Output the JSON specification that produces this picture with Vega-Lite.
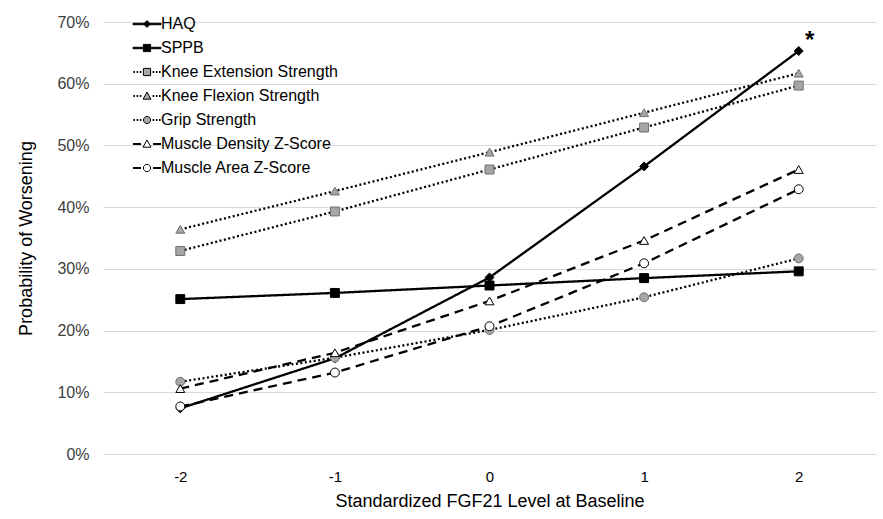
{
  "$schema": "https://vega.github.io/schema/vega-lite/v6.json",
  "width": 773,
  "height": 432,
  "autosize": {"type": "none"},
  "padding": {"left": 103, "top": 22, "right": 7, "bottom": 65},
  "background": "white",
  "config": {
    "font": "Liberation Sans",
    "view": {"stroke": null}
  },
  "data": {
    "values": [
      {"x": -2, "series": "HAQ", "p": 0.074},
      {"x": -1, "series": "HAQ", "p": 0.155},
      {"x": 0, "series": "HAQ", "p": 0.286},
      {"x": 1, "series": "HAQ", "p": 0.466},
      {"x": 2, "series": "HAQ", "p": 0.653},
      {"x": -2, "series": "SPPB", "p": 0.251},
      {"x": -1, "series": "SPPB", "p": 0.261},
      {"x": 0, "series": "SPPB", "p": 0.273},
      {"x": 1, "series": "SPPB", "p": 0.285},
      {"x": 2, "series": "SPPB", "p": 0.296},
      {"x": -2, "series": "Knee Extension Strength", "p": 0.329},
      {"x": -1, "series": "Knee Extension Strength", "p": 0.393},
      {"x": 0, "series": "Knee Extension Strength", "p": 0.461},
      {"x": 1, "series": "Knee Extension Strength", "p": 0.529},
      {"x": 2, "series": "Knee Extension Strength", "p": 0.597},
      {"x": -2, "series": "Knee Flexion Strength", "p": 0.364},
      {"x": -1, "series": "Knee Flexion Strength", "p": 0.426},
      {"x": 0, "series": "Knee Flexion Strength", "p": 0.489},
      {"x": 1, "series": "Knee Flexion Strength", "p": 0.553},
      {"x": 2, "series": "Knee Flexion Strength", "p": 0.617},
      {"x": -2, "series": "Grip Strength", "p": 0.117},
      {"x": -1, "series": "Grip Strength", "p": 0.156},
      {"x": 0, "series": "Grip Strength", "p": 0.201},
      {"x": 1, "series": "Grip Strength", "p": 0.254},
      {"x": 2, "series": "Grip Strength", "p": 0.317},
      {"x": -2, "series": "Muscle Density Z-Score", "p": 0.106},
      {"x": -1, "series": "Muscle Density Z-Score", "p": 0.164},
      {"x": 0, "series": "Muscle Density Z-Score", "p": 0.248},
      {"x": 1, "series": "Muscle Density Z-Score", "p": 0.346},
      {"x": 2, "series": "Muscle Density Z-Score", "p": 0.461},
      {"x": -2, "series": "Muscle Area Z-Score", "p": 0.077},
      {"x": -1, "series": "Muscle Area Z-Score", "p": 0.132},
      {"x": 0, "series": "Muscle Area Z-Score", "p": 0.207},
      {"x": 1, "series": "Muscle Area Z-Score", "p": 0.309},
      {"x": 2, "series": "Muscle Area Z-Score", "p": 0.429}
    ]
  },
  "encoding": {
    "x": {
      "field": "x",
      "type": "ordinal",
      "scale": {"type": "point", "padding": 0.5, "domain": [-2, -1, 0, 1, 2]},
      "axis": {
        "labelAngle": 0,
        "ticks": false,
        "domain": false,
        "labelPadding": 15,
        "labelFontSize": 15,
        "labelColor": "#000000",
        "title": "Standardized FGF21 Level at Baseline",
        "titleFontSize": 18,
        "titleFontWeight": "normal",
        "titleColor": "#000000",
        "titlePadding": 8
      }
    },
    "y": {
      "field": "p",
      "type": "quantitative",
      "scale": {"domain": [0, 0.7], "nice": false, "zero": true},
      "axis": {
        "values": [0, 0.1, 0.2, 0.3, 0.4, 0.5, 0.6, 0.7],
        "format": ".0%",
        "grid": true,
        "gridColor": "#d9d9d9",
        "gridWidth": 1.2,
        "ticks": false,
        "domain": false,
        "labelPadding": 14,
        "labelFontSize": 16,
        "labelColor": "#404040",
        "title": "Probability of Worsening",
        "titleFontSize": 18,
        "titleFontWeight": "normal",
        "titleColor": "#000000",
        "titlePadding": 21
      }
    }
  },
  "layer": [
    {
      "mark": {"type": "line", "color": "black", "strokeWidth": 2.3},
      "encoding": {
        "detail": {"field": "series", "type": "nominal"},
        "strokeDash": {
          "field": "series",
          "type": "nominal",
          "scale": {
            "domain": ["HAQ", "SPPB", "Knee Extension Strength", "Knee Flexion Strength", "Grip Strength", "Muscle Density Z-Score", "Muscle Area Z-Score"],
            "range": [[1, 0], [1, 0], [2, 2.5], [2, 2.5], [2, 2.5], [9, 6], [9, 6]]
          },
          "legend": null
        }
      }
    },
    {
      "mark": {"type": "point", "filled": true, "size": 80, "strokeWidth": 1, "opacity": 1},
      "encoding": {
        "shape": {
          "field": "series",
          "type": "nominal",
          "scale": {
            "domain": ["HAQ", "SPPB", "Knee Extension Strength", "Knee Flexion Strength", "Grip Strength", "Muscle Density Z-Score", "Muscle Area Z-Score"],
            "range": ["diamond", "square", "square", "triangle-up", "circle", "triangle-up", "circle"]
          },
          "legend": null
        },
        "fill": {
          "field": "series",
          "type": "nominal",
          "scale": {
            "domain": ["HAQ", "SPPB", "Knee Extension Strength", "Knee Flexion Strength", "Grip Strength", "Muscle Density Z-Score", "Muscle Area Z-Score"],
            "range": ["#000000", "#000000", "#a6a6a6", "#a6a6a6", "#a6a6a6", "#ffffff", "#ffffff"]
          },
          "legend": null
        },
        "stroke": {
          "field": "series",
          "type": "nominal",
          "scale": {
            "domain": ["HAQ", "SPPB", "Knee Extension Strength", "Knee Flexion Strength", "Grip Strength", "Muscle Density Z-Score", "Muscle Area Z-Score"],
            "range": ["#000000", "#000000", "#6f6f6f", "#6f6f6f", "#6f6f6f", "#000000", "#000000"]
          },
          "legend": null
        }
      }
    },
    {
      "transform": [{"filter": "datum.p > 2"}],
      "mark": {"type": "point", "filled": true, "stroke": "black", "strokeWidth": 1},
      "encoding": {
        "shape": {
          "field": "series",
          "type": "nominal",
          "scale": {
            "domain": ["HAQ", "SPPB", "Knee Extension Strength", "Knee Flexion Strength", "Grip Strength", "Muscle Density Z-Score", "Muscle Area Z-Score"],
            "range": [
              "M-3.5,-0.18H3.5V0.18H-3.5ZM0,-0.85L0.85,0L0,0.85L-0.85,0Z",
              "M-3.5,-0.18H3.5V0.18H-3.5ZM-0.9,-0.9H0.9V0.9H-0.9Z",
              "M-3.4,-0.12H-3.0M-3.4,0.12H-3.0M-2.6,-0.12H-2.2M-2.6,0.12H-2.2M-1.8,-0.12H-1.4M-1.8,0.12H-1.4M1.4,-0.12H1.8M1.4,0.12H1.8M2.2,-0.12H2.6M2.2,0.12H2.6M3.0,-0.12H3.4M3.0,0.12H3.4M-0.9,-0.9H0.9V0.9H-0.9Z",
              "M-3.4,-0.12H-3.0M-3.4,0.12H-3.0M-2.6,-0.12H-2.2M-2.6,0.12H-2.2M-1.8,-0.12H-1.4M-1.8,0.12H-1.4M1.4,-0.12H1.8M1.4,0.12H1.8M2.2,-0.12H2.6M2.2,0.12H2.6M3.0,-0.12H3.4M3.0,0.12H3.4M0,-1L1,0.8H-1Z",
              "M-3.4,-0.12H-3.0M-3.4,0.12H-3.0M-2.6,-0.12H-2.2M-2.6,0.12H-2.2M-1.8,-0.12H-1.4M-1.8,0.12H-1.4M1.4,-0.12H1.8M1.4,0.12H1.8M2.2,-0.12H2.6M2.2,0.12H2.6M3.0,-0.12H3.4M3.0,0.12H3.4M0.9,0A0.9,0.9,0,1,1,-0.9,0A0.9,0.9,0,1,1,0.9,0Z",
              "M-3.5,-0.12H-1.5M-3.5,0.12H-1.5M1.5,-0.12H3.5M1.5,0.12H3.5M0,-1L1,0.8H-1Z",
              "M-3.5,-0.12H-1.5M-3.5,0.12H-1.5M1.5,-0.12H3.5M1.5,0.12H3.5M0.9,0A0.9,0.9,0,1,1,-0.9,0A0.9,0.9,0,1,1,0.9,0Z"
            ]
          },
          "legend": {
            "orient": "none",
            "legendX": 36,
            "legendY": -6,
            "title": null,
            "padding": 0,
            "symbolSize": 64,
            "symbolStrokeWidth": 1,
            "symbolOpacity": 1,
            "labelOffset": 6,
            "labelFontSize": 16,
            "labelColor": "#000000",
            "labelLimit": 400,
            "rowPadding": 8
          }
        },
        "fill": {
          "field": "series",
          "type": "nominal",
          "scale": {
            "domain": ["HAQ", "SPPB", "Knee Extension Strength", "Knee Flexion Strength", "Grip Strength", "Muscle Density Z-Score", "Muscle Area Z-Score"],
            "range": ["#000000", "#000000", "#a6a6a6", "#a6a6a6", "#a6a6a6", "#ffffff", "#ffffff"]
          },
          "legend": {
            "orient": "none",
            "legendX": 36,
            "legendY": -6,
            "title": null,
            "padding": 0,
            "symbolSize": 64,
            "symbolStrokeWidth": 1,
            "symbolOpacity": 1,
            "labelOffset": 6,
            "labelFontSize": 16,
            "labelColor": "#000000",
            "labelLimit": 400,
            "rowPadding": 8
          }
        }
      }
    },
    {
      "data": {"values": [{"x": 2, "p": 0.653, "label": "*"}]},
      "mark": {"type": "text", "fontSize": 24, "fontWeight": "bold", "dx": 11, "dy": -10, "color": "black"},
      "encoding": {
        "text": {"field": "label", "type": "nominal"}
      }
    }
  ],
  "resolve": {
    "scale": {"shape": "independent", "fill": "independent"}
  }
}
